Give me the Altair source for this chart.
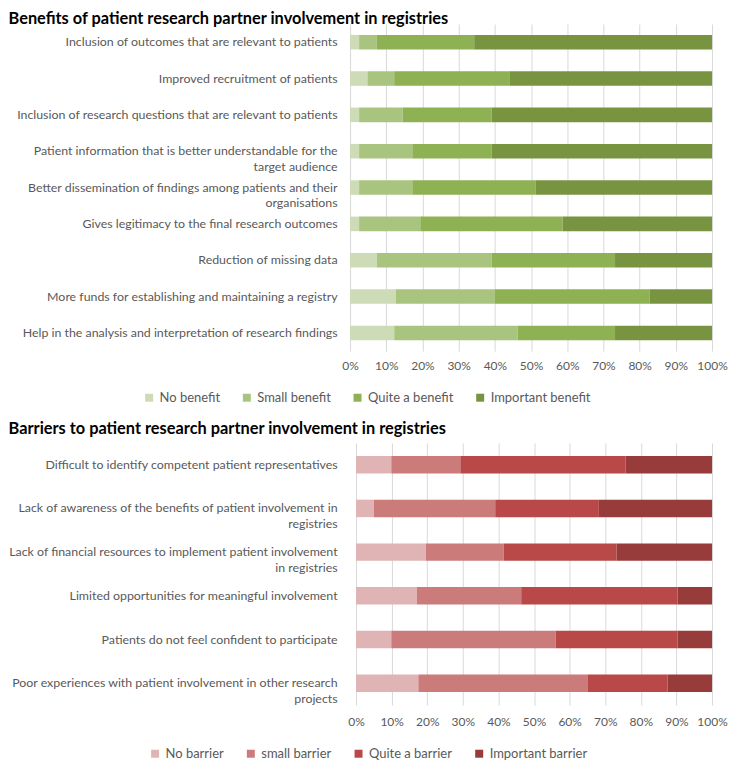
import altair as alt
import pandas as pd

# ---------------- Data ----------------
benefit_items = [
    "Inclusion of outcomes that are relevant to patients",
    "Improved recruitment of patients",
    "Inclusion of research questions that are relevant to patients",
    "Patient information that is better understandable for the|target audience",
    "Better dissemination of findings among patients and their|organisations",
    "Gives legitimacy to the final research outcomes",
    "Reduction of missing data",
    "More funds for establishing and maintaining a registry",
    "Help in the analysis and interpretation of research findings",
]
benefit_levels = ["No benefit", "Small benefit", "Quite a benefit", "Important benefit"]
benefit_no = [2.5, 4.8, 2.5, 2.5, 2.5, 2.5, 7.4, 12.6, 12.2]
benefit_small = [4.9, 7.4, 12.0, 14.7, 14.7, 16.9, 31.7, 27.4, 34.1]
benefit_quite = [26.9, 31.8, 24.6, 21.9, 34.0, 39.3, 34.1, 42.7, 26.9]
benefit_important = [65.7, 56.0, 60.9, 60.9, 48.8, 41.3, 26.8, 17.3, 26.8]
benefit_colors = ["#cddcb6", "#a9c47f", "#8eb153", "#789440"]

barrier_items = [
    "Difficult to identify competent patient representatives",
    "Lack of awareness of the benefits of patient involvement in|registries",
    "Lack of financial resources to implement patient involvement|in registries",
    "Limited opportunities for meaningful involvement",
    "Patients do not feel confident to participate",
    "Poor experiences with patient involvement in other research|projects",
]
barrier_levels = ["No barrier", "small barrier", "Quite a barrier", "Important barrier"]
barrier_no = [9.9, 5.0, 19.6, 17.1, 9.9, 17.5]
barrier_small = [19.4, 34.1, 21.9, 29.3, 46.2, 47.5]
barrier_quite = [46.4, 29.1, 31.7, 43.9, 34.2, 22.5]
barrier_important = [24.3, 31.8, 26.8, 9.7, 9.7, 12.5]
barrier_colors = ["#e0b4b4", "#cc7b7b", "#b94848", "#983b3b"]

tick_values = [0, 0.1, 0.2, 0.3, 0.4, 0.5, 0.6, 0.7, 0.8, 0.9, 1.0]

FONT = "Lato"
GRAY = "#595959"


def long_table(items, levels, series):
    rows = []
    for i, item in enumerate(items):
        for k, lvl in enumerate(levels):
            rows.append({"item": item, "level": lvl, "order": k, "value": series[k][i]})
    return pd.DataFrame(rows)


def make_panel(df, items, levels, colors, title, w, h, x_range, legend_x, legend_y,
               title_offset, title_dx, x_label_pad):
    return alt.Chart(df).mark_bar().encode(
        x=alt.X(
            "value:Q",
            stack="normalize",
            scale=alt.Scale(domain=[0, 1], range=x_range),
            axis=alt.Axis(
                format=".0%", values=tick_values, title=None, grid=True,
                gridColor="#d9d9d9", domain=False, ticks=False,
                labelPadding=x_label_pad, labelFont=FONT, labelFontSize=12,
                labelColor=GRAY, labelOverlap=False, labelFlush=False,
            ),
        ),
        y=alt.Y(
            "item:N",
            sort=items,
            scale=alt.Scale(paddingInner=0.6, paddingOuter=0.3),
            axis=alt.Axis(
                title=None, labelExpr="split(datum.label, '|')", labelLimit=500,
                ticks=False, domain=False, labelPadding=13, labelFont=FONT,
                labelFontSize=12.4, labelColor=GRAY, labelLineHeight=16,
            ),
        ),
        color=alt.Color(
            "level:N",
            scale=alt.Scale(domain=levels, range=colors),
            legend=alt.Legend(
                title=None, orient="none", direction="horizontal",
                legendX=legend_x, legendY=legend_y, symbolType="square",
                symbolSize=64, symbolStrokeWidth=0, labelFont=FONT, labelFontSize=13,
                labelColor=GRAY, columnPadding=20, labelOffset=4,
            ),
        ),
        order=alt.Order("order:Q"),
    ).properties(
        width=w,
        height=h,
        title=alt.TitleParams(
            title, anchor="start", frame="bounds", font=FONT, fontSize=16.4,
            fontWeight="bold", color="#000000", offset=title_offset, dx=title_dx,
        ),
    )


benefits = make_panel(
    long_table(benefit_items, benefit_levels,
               [benefit_no, benefit_small, benefit_quite, benefit_important]),
    benefit_items, benefit_levels, benefit_colors,
    "Benefits of patient research partner involvement in registries",
    363, 328, [0, 363], -208, 368, -3, -8, 9,
)

barriers = make_panel(
    long_table(barrier_items, barrier_levels,
               [barrier_no, barrier_small, barrier_quite, barrier_important]),
    barrier_items, barrier_levels, barrier_colors,
    "Barriers to patient research partner involvement in registries",
    363, 263, [6, 363], -202, 305, 5, 0, 11,
)

chart = alt.concat(benefits, barriers, columns=1, spacing=16, align="none").resolve_scale(
    color="independent", x="independent", y="independent"
).resolve_legend(color="independent").properties(
    padding={"left": 0, "top": 1, "right": 0, "bottom": 0}
).configure_view(stroke=None)

chart.save("out.html", embed_options={"renderer": "svg", "actions": False})
